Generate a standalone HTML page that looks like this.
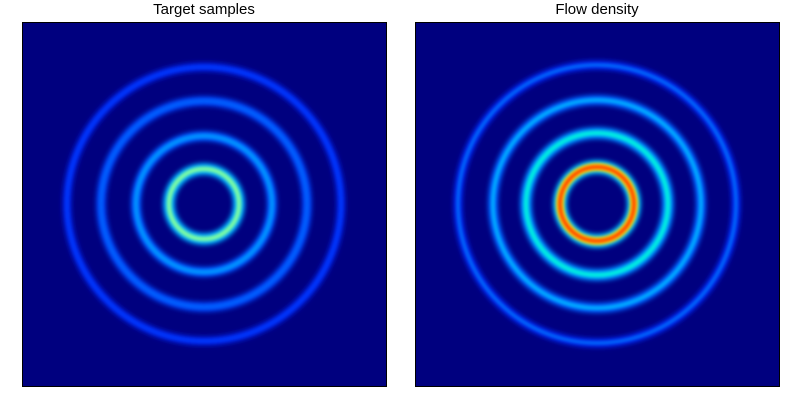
<!DOCTYPE html>
<html><head><meta charset="utf-8"><style>
body{margin:0;background:#fff;width:800px;height:400px;overflow:hidden;font-family:"Liberation Sans","DejaVu Sans",sans-serif}
</style></head><body>
<svg width="800" height="400" viewBox="0 0 800 400">
<defs>
<filter id="b1" x="-20%" y="-20%" width="140%" height="140%"><feGaussianBlur stdDeviation="1.5"/></filter>
<filter id="b2" x="-20%" y="-20%" width="140%" height="140%"><feGaussianBlur stdDeviation="2.5"/></filter>
</defs>
<text x="204" y="14" text-anchor="middle" font-size="15">Target samples</text>
<text x="597" y="14" text-anchor="middle" font-size="15">Flow density</text>
<rect x="22.5" y="22.5" width="364" height="364" fill="#00007f" stroke="#000"/>
<rect x="415.5" y="22.5" width="364" height="364" fill="#00007f" stroke="#000"/>
<g id="left"></g>
<g id="right"></g>
</svg>
<script>
const ringRadii=[35,68,103,137];
const targetColors=[["#00a8ff",12],["#0058ff",10],["#0040f0",10],["#0020e0",9]];
const targetCore=["#80ffa0","#0098ff","#0060ff","#0038ff"];
const flowRadii=[37,71,104,139];
const flowLayers=[[["#00c0ff",14],["#ffe000",8],["#ff3000",3.5]],[["#0080ff",12],["#00f0e0",5]],[["#0060ff",10],["#00c0ff",3]],[["#0028f0",9],["#0080ff",2.5]]];
const NS="http://www.w3.org/2000/svg";
function circ(g,cx,cy,r,col,w,f){const c=document.createElementNS(NS,"circle");
c.setAttribute("cx",cx);c.setAttribute("cy",cy);c.setAttribute("r",r);c.setAttribute("fill","none");
c.setAttribute("stroke",col);c.setAttribute("stroke-width",w);c.setAttribute("filter",f);


g.appendChild(c);}
const L=document.getElementById("left"),R=document.getElementById("right");
ringRadii.forEach((r,i)=>{circ(L,204,204,r,targetColors[i][0],targetColors[i][1],"url(#b2)");circ(L,204,204,r,targetCore[i],targetColors[i][1]*0.4,"url(#b1)");});
flowRadii.forEach((r,i)=>{flowLayers[i].forEach(([c,w],j)=>circ(R,597,204,r,c,w,j==0?"url(#b2)":"url(#b1)"));});
</script>
</body></html>
